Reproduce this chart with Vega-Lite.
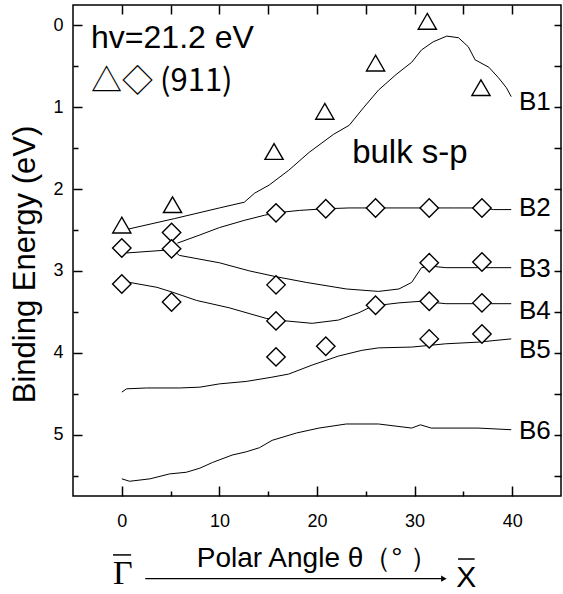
{
  "$schema": "https://vega.github.io/schema/vega-lite/v6.json",
  "width": 488,
  "height": 491,
  "autosize": {"type": "none"},
  "padding": {"left": 73, "top": 5, "right": 2, "bottom": 98},
  "background": "white",
  "config": {
    "view": {"stroke": "black", "strokeWidth": 1.5},
    "text": {"font": "Liberation Sans", "color": "black"}
  },
  "datasets": {
    "curves": [
      {"band": "B1", "x": 0.6, "y": 2.49}, {"band": "B1", "x": 5.4, "y": 2.36}, {"band": "B1", "x": 10.0, "y": 2.23}, {"band": "B1", "x": 12.55, "y": 2.16},
      {"band": "B1", "x": 13.6, "y": 2.05}, {"band": "B1", "x": 15.1, "y": 1.95}, {"band": "B1", "x": 17.1, "y": 1.77}, {"band": "B1", "x": 19.2, "y": 1.55},
      {"band": "B1", "x": 21.7, "y": 1.33}, {"band": "B1", "x": 23.3, "y": 1.22}, {"band": "B1", "x": 24.8, "y": 1.0}, {"band": "B1", "x": 26.3, "y": 0.79},
      {"band": "B1", "x": 28.1, "y": 0.6}, {"band": "B1", "x": 29.7, "y": 0.45}, {"band": "B1", "x": 30.7, "y": 0.3}, {"band": "B1", "x": 31.9, "y": 0.2},
      {"band": "B1", "x": 33.3, "y": 0.13}, {"band": "B1", "x": 34.5, "y": 0.15}, {"band": "B1", "x": 35.5, "y": 0.26}, {"band": "B1", "x": 36.2, "y": 0.42},
      {"band": "B1", "x": 37.6, "y": 0.51}, {"band": "B1", "x": 38.6, "y": 0.64}, {"band": "B1", "x": 39.4, "y": 0.76}, {"band": "B1", "x": 39.9, "y": 0.87},
      {"band": "B2", "x": 5.7, "y": 2.66}, {"band": "B2", "x": 8.0, "y": 2.56}, {"band": "B2", "x": 10.0, "y": 2.47}, {"band": "B2", "x": 12.6, "y": 2.38},
      {"band": "B2", "x": 14.6, "y": 2.32}, {"band": "B2", "x": 15.8, "y": 2.29}, {"band": "B2", "x": 18.2, "y": 2.26}, {"band": "B2", "x": 20.9, "y": 2.24},
      {"band": "B2", "x": 23.3, "y": 2.23}, {"band": "B2", "x": 26.0, "y": 2.23}, {"band": "B2", "x": 28.4, "y": 2.23}, {"band": "B2", "x": 31.5, "y": 2.23},
      {"band": "B2", "x": 34.0, "y": 2.23}, {"band": "B2", "x": 36.9, "y": 2.23}, {"band": "B2", "x": 38.1, "y": 2.25}, {"band": "B2", "x": 39.9, "y": 2.25},
      {"band": "B3", "x": 0.5, "y": 2.78}, {"band": "B3", "x": 5.2, "y": 2.74}, {"band": "B3", "x": 5.9, "y": 2.81}, {"band": "B3", "x": 10.0, "y": 2.9},
      {"band": "B3", "x": 13.1, "y": 3.0}, {"band": "B3", "x": 15.8, "y": 3.07}, {"band": "B3", "x": 18.9, "y": 3.14}, {"band": "B3", "x": 23.0, "y": 3.22},
      {"band": "B3", "x": 26.3, "y": 3.25}, {"band": "B3", "x": 28.4, "y": 3.22}, {"band": "B3", "x": 29.7, "y": 3.14}, {"band": "B3", "x": 30.7, "y": 2.96},
      {"band": "B3", "x": 31.6, "y": 2.94}, {"band": "B3", "x": 33.2, "y": 2.96}, {"band": "B3", "x": 36.5, "y": 2.96}, {"band": "B3", "x": 39.9, "y": 2.96},
      {"band": "B4", "x": 0.8, "y": 3.14}, {"band": "B4", "x": 3.6, "y": 3.2}, {"band": "B4", "x": 5.2, "y": 3.26}, {"band": "B4", "x": 7.65, "y": 3.36},
      {"band": "B4", "x": 11.0, "y": 3.45}, {"band": "B4", "x": 14.8, "y": 3.58}, {"band": "B4", "x": 16.8, "y": 3.61}, {"band": "B4", "x": 19.5, "y": 3.64},
      {"band": "B4", "x": 22.2, "y": 3.6}, {"band": "B4", "x": 24.3, "y": 3.51}, {"band": "B4", "x": 25.5, "y": 3.44}, {"band": "B4", "x": 26.3, "y": 3.42},
      {"band": "B4", "x": 28.4, "y": 3.39}, {"band": "B4", "x": 30.7, "y": 3.37}, {"band": "B4", "x": 33.2, "y": 3.4}, {"band": "B4", "x": 36.5, "y": 3.4},
      {"band": "B4", "x": 39.9, "y": 3.4},
      {"band": "B5", "x": 0.0, "y": 4.48}, {"band": "B5", "x": 0.5, "y": 4.44}, {"band": "B5", "x": 2.55, "y": 4.43}, {"band": "B5", "x": 5.9, "y": 4.43},
      {"band": "B5", "x": 8.0, "y": 4.42}, {"band": "B5", "x": 10.0, "y": 4.38}, {"band": "B5", "x": 12.75, "y": 4.35}, {"band": "B5", "x": 15.3, "y": 4.3},
      {"band": "B5", "x": 17.1, "y": 4.26}, {"band": "B5", "x": 19.5, "y": 4.15}, {"band": "B5", "x": 22.2, "y": 4.04}, {"band": "B5", "x": 24.6, "y": 3.97},
      {"band": "B5", "x": 26.3, "y": 3.94}, {"band": "B5", "x": 29.7, "y": 3.93}, {"band": "B5", "x": 33.2, "y": 3.89}, {"band": "B5", "x": 36.5, "y": 3.87},
      {"band": "B5", "x": 39.9, "y": 3.83},
      {"band": "B6", "x": 0.0, "y": 5.54}, {"band": "B6", "x": 0.8, "y": 5.57}, {"band": "B6", "x": 2.9, "y": 5.54}, {"band": "B6", "x": 4.9, "y": 5.48},
      {"band": "B6", "x": 6.6, "y": 5.46}, {"band": "B6", "x": 8.0, "y": 5.41}, {"band": "B6", "x": 9.3, "y": 5.34}, {"band": "B6", "x": 11.3, "y": 5.25},
      {"band": "B6", "x": 12.75, "y": 5.21}, {"band": "B6", "x": 14.1, "y": 5.16}, {"band": "B6", "x": 15.4, "y": 5.07}, {"band": "B6", "x": 17.9, "y": 4.98},
      {"band": "B6", "x": 20.2, "y": 4.92}, {"band": "B6", "x": 23.0, "y": 4.87}, {"band": "B6", "x": 26.3, "y": 4.87}, {"band": "B6", "x": 29.7, "y": 4.92},
      {"band": "B6", "x": 30.6, "y": 4.88}, {"band": "B6", "x": 31.7, "y": 4.92}, {"band": "B6", "x": 36.5, "y": 4.92}, {"band": "B6", "x": 39.9, "y": 4.94}
    ],
    "pts": [
      {"kind": "tri", "x": 0.0, "y": 2.44}, {"kind": "tri", "x": 5.2, "y": 2.19}, {"kind": "tri", "x": 15.6, "y": 1.54},
      {"kind": "tri", "x": 20.8, "y": 1.05}, {"kind": "tri", "x": 26.0, "y": 0.46}, {"kind": "tri", "x": 31.3, "y": -0.05},
      {"kind": "tri", "x": 36.8, "y": 0.76},
      {"kind": "dia", "x": 0.0, "y": 2.72}, {"kind": "dia", "x": 0.0, "y": 3.16},
      {"kind": "dia", "x": 5.1, "y": 2.53}, {"kind": "dia", "x": 5.1, "y": 2.73}, {"kind": "dia", "x": 5.1, "y": 3.38},
      {"kind": "dia", "x": 15.8, "y": 2.29}, {"kind": "dia", "x": 15.8, "y": 3.17}, {"kind": "dia", "x": 15.8, "y": 3.61}, {"kind": "dia", "x": 15.8, "y": 4.05},
      {"kind": "dia", "x": 20.9, "y": 2.24}, {"kind": "dia", "x": 20.9, "y": 3.92},
      {"kind": "dia", "x": 26.0, "y": 2.23}, {"kind": "dia", "x": 26.0, "y": 3.42},
      {"kind": "dia", "x": 31.5, "y": 2.23}, {"kind": "dia", "x": 31.5, "y": 2.9}, {"kind": "dia", "x": 31.5, "y": 3.37}, {"kind": "dia", "x": 31.5, "y": 3.83},
      {"kind": "dia", "x": 36.9, "y": 2.23}, {"kind": "dia", "x": 36.9, "y": 2.89}, {"kind": "dia", "x": 36.9, "y": 3.39}, {"kind": "dia", "x": 36.9, "y": 3.77}
    ],
    "labels": [
      {"band": "B1", "y": 0.93}, {"band": "B2", "y": 2.23}, {"band": "B3", "y": 2.97},
      {"band": "B4", "y": 3.49}, {"band": "B5", "y": 3.97}, {"band": "B6", "y": 4.96}
    ]
  },
  "layer": [
    {
      "data": {"name": "curves"},
      "mark": {"type": "line", "stroke": "black", "strokeWidth": 1, "interpolate": "linear"},
      "encoding": {
        "x": {
          "field": "x", "type": "quantitative",
          "scale": {"domain": [-5, 45], "nice": false, "zero": false},
          "axis": {
            "orient": "bottom",
            "values": [0, 5, 10, 15, 20, 25, 30, 35, 40],
            "labelExpr": "datum.value % 10 === 0 ? datum.label : ''",
            "tickSize": {"condition": {"test": "datum.value % 10 === 0", "value": -10}, "value": -5},
            "tickColor": "black", "tickWidth": 1.5,
            "domain": false, "grid": false,
            "labelFont": "Liberation Sans", "labelFontSize": 18, "labelColor": "black", "labelPadding": 26,
            "title": "Polar Angle θ（°  ）",
            "titleFont": "Liberation Sans", "titleFontSize": 28, "titleFontWeight": "normal", "titleColor": "black",
            "titlePadding": 14
          }
        },
        "y": {
          "field": "y", "type": "quantitative",
          "scale": {"domain": [-0.25, 5.75], "nice": false, "zero": false, "reverse": true},
          "axis": {
            "orient": "left",
            "values": [0, 0.5, 1, 1.5, 2, 2.5, 3, 3.5, 4, 4.5, 5, 5.5],
            "labelExpr": "datum.value % 1 === 0 ? format(datum.value, 'd') : ''",
            "tickSize": {"condition": {"test": "datum.value % 1 === 0", "value": -9}, "value": -5},
            "tickColor": "black", "tickWidth": 1.5,
            "domain": false, "grid": false,
            "labelFont": "Liberation Sans", "labelFontSize": 18, "labelColor": "black", "labelPadding": 19,
            "title": "Binding Energy (eV)",
            "titleFont": "Liberation Sans", "titleFontSize": 31, "titleFontWeight": "normal", "titleColor": "black",
            "titlePadding": 11, "titleY": 259
          }
        },
        "detail": {"field": "band"}
      }
    },
    {
      "data": {"name": "pts"},
      "mark": {"type": "point", "filled": true, "fill": "white", "stroke": "black", "strokeWidth": 1.4, "opacity": 1},
      "encoding": {
        "x": {
          "field": "x", "type": "quantitative",
          "scale": {"domain": [-5, 45], "nice": false, "zero": false},
          "axis": {
            "orient": "top", "values": [0, 5, 10, 15, 20, 25, 30, 35, 40],
            "labels": false, "tickSize": -9, "tickColor": "black", "tickWidth": 1.5,
            "domain": false, "grid": false, "title": null
          }
        },
        "y": {
          "field": "y", "type": "quantitative",
          "scale": {"domain": [-0.25, 5.75], "nice": false, "zero": false, "reverse": true},
          "axis": {
            "orient": "right", "values": [0, 0.5, 1, 1.5, 2, 2.5, 3, 3.5, 4, 4.5, 5, 5.5],
            "labels": false, "tickSize": -7, "tickColor": "black", "tickWidth": 1.5,
            "domain": false, "grid": false, "title": null
          }
        },
        "shape": {
          "field": "kind", "type": "nominal",
          "scale": {"domain": ["tri", "dia"], "range": ["triangle-up", "diamond"]},
          "legend": null
        },
        "size": {
          "field": "kind", "type": "nominal",
          "scale": {"domain": ["tri", "dia"], "range": [330, 340]},
          "legend": null
        }
      }
    },
    {
      "data": {"name": "labels"},
      "mark": {"type": "text", "align": "left", "baseline": "middle", "fontSize": 26},
      "encoding": {
        "x": {"datum": 40.7, "type": "quantitative", "axis": null},
        "y": {"field": "y", "type": "quantitative", "axis": null},
        "text": {"field": "band"}
      }
    },
    {
      "data": {"values": [{}]},
      "mark": {"type": "text", "align": "left", "baseline": "alphabetic", "fontSize": 32, "text": "hv=21.2 eV"},
      "encoding": {
        "x": {"datum": -3.15, "type": "quantitative", "axis": null},
        "y": {"datum": 0.28, "type": "quantitative", "axis": null}
      }
    },
    {
      "data": {"values": [{}]},
      "mark": {"type": "text", "align": "left", "baseline": "alphabetic", "fontSize": 31, "font": "Noto Sans CJK JP", "text": "△◇ (911)"},
      "encoding": {
        "x": {"datum": -3.15, "type": "quantitative", "axis": null},
        "y": {"datum": 0.8, "type": "quantitative", "axis": null}
      }
    },
    {
      "data": {"values": [{}]},
      "mark": {"type": "text", "align": "left", "baseline": "alphabetic", "fontSize": 33, "text": "bulk s-p"},
      "encoding": {
        "x": {"datum": 23.6, "type": "quantitative", "axis": null},
        "y": {"datum": 1.68, "type": "quantitative", "axis": null}
      }
    },
    {
      "data": {"values": [{}]},
      "mark": {"type": "text", "align": "center", "baseline": "alphabetic", "fontSize": 34, "font": "Liberation Serif", "text": "Γ"},
      "encoding": {
        "x": {"datum": 0.1, "type": "quantitative", "axis": null},
        "y": {"datum": 6.83, "type": "quantitative", "axis": null}
      }
    },
    {
      "data": {"values": [{}]},
      "mark": {"type": "rule", "stroke": "black", "strokeWidth": 1.5},
      "encoding": {
        "x": {"datum": -0.9, "type": "quantitative", "axis": null},
        "x2": {"datum": 0.95},
        "y": {"datum": 6.47, "type": "quantitative", "axis": null}
      }
    },
    {
      "data": {"values": [{}]},
      "mark": {"type": "text", "align": "center", "baseline": "alphabetic", "fontSize": 30, "text": "X"},
      "encoding": {
        "x": {"datum": 35.3, "type": "quantitative", "axis": null},
        "y": {"datum": 6.86, "type": "quantitative", "axis": null}
      }
    },
    {
      "data": {"values": [{}]},
      "mark": {"type": "rule", "stroke": "black", "strokeWidth": 1.5},
      "encoding": {
        "x": {"datum": 34.45, "type": "quantitative", "axis": null},
        "x2": {"datum": 36.15},
        "y": {"datum": 6.52, "type": "quantitative", "axis": null}
      }
    },
    {
      "data": {"values": [{}]},
      "mark": {"type": "rule", "stroke": "black", "strokeWidth": 1.2},
      "encoding": {
        "x": {"datum": 2.4, "type": "quantitative", "axis": null},
        "x2": {"datum": 32.8},
        "y": {"datum": 6.76, "type": "quantitative", "axis": null}
      }
    },
    {
      "data": {"values": [{}]},
      "mark": {"type": "point", "shape": "triangle-right", "filled": true, "color": "black", "size": 40, "opacity": 1},
      "encoding": {
        "x": {"datum": 33.0, "type": "quantitative", "axis": null},
        "y": {"datum": 6.76, "type": "quantitative", "axis": null}
      }
    }
  ],
  "resolve": {"axis": {"x": "independent", "y": "independent"}}
}
